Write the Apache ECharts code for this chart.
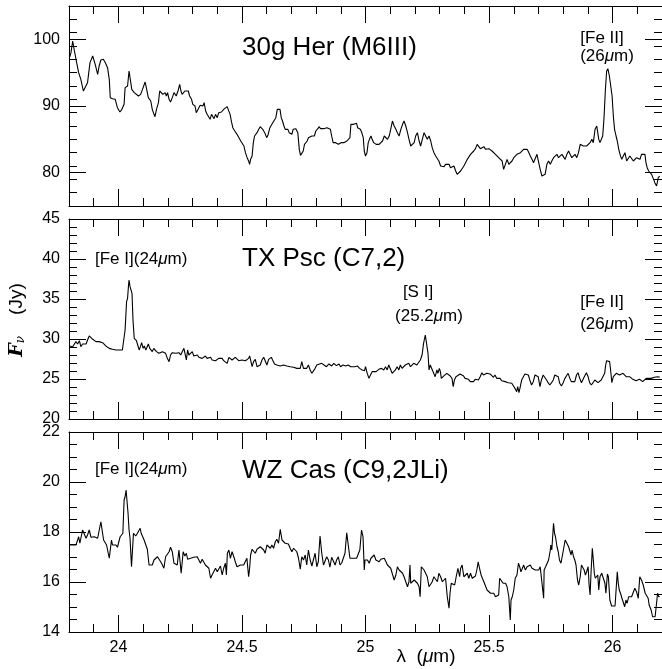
<!DOCTYPE html>
<html>
<head>
<meta charset="utf-8">
<script src="https://cdn.jsdelivr.net/npm/echarts@6/dist/echarts.min.js"></script>
<style>
  html, body { margin: 0; padding: 0; background: #fff; }
  #chart { width: 662px; height: 669px; }
</style>
</head>
<body>
<div id="chart"></div>
<script>
// wavelength axis (um) and flux ticks (Jy) for each panel
const waveRange = [23.8, 26.2];
const waveTicks = [24, 24.5, 25, 25.5, 26];
const herTicks = [80, 90, 100];
const pscTicks = [20, 25, 30, 35, 40, 45];
const casTicks = [14, 16, 18, 20, 22];

// [wavelength, flux]
const herSpectrum = [
  [23.801,97.1],[23.808,98.0],[23.815,99.75],[23.822,98.25],[23.831,96.5],[23.839,95.0],[23.848,94.0],[23.858,92.25],[23.866,92.5],[23.875,93.5],
  [23.885,96.5],[23.896,97.5],[23.906,96.25],[23.916,94.75],[23.922,96.0],[23.929,96.9],[23.939,97.0],[23.947,96.5],[23.956,95.75],[23.963,94.0],
  [23.967,91.25],[23.976,91.1],[23.987,91.0],[23.996,89.75],[24.006,89.1],[24.014,89.5],[24.023,90.25],[24.027,92.75],[24.037,93.0],[24.043,95.25],
  [24.050,95.25],[24.054,92.5],[24.064,92.0],[24.070,91.75],[24.081,91.5],[24.090,91.75],[24.100,92.75],[24.108,93.6],[24.113,92.75],[24.121,91.25],
  [24.131,90.75],[24.137,89.5],[24.144,88.75],[24.148,88.4],[24.154,89.5],[24.162,90.5],[24.167,92.25],[24.175,92.25],[24.180,91.75],[24.189,92.0],
  [24.194,91.5],[24.199,92.0],[24.205,91.0],[24.211,90.6],[24.218,91.25],[24.225,92.0],[24.229,92.25],[24.234,91.5],[24.241,92.25],[24.248,93.25],
  [24.253,92.25],[24.258,91.75],[24.265,91.5],[24.269,92.25],[24.275,92.5],[24.283,92.25],[24.288,91.5],[24.296,91.0],[24.301,90.25],[24.310,90.0],
  [24.315,89.0],[24.323,89.25],[24.331,90.1],[24.336,90.25],[24.342,90.0],[24.347,90.5],[24.353,89.25],[24.359,88.75],[24.366,88.5],[24.371,88.0],
  [24.377,88.75],[24.382,89.0],[24.387,88.1],[24.393,88.75],[24.400,88.25],[24.406,89.0],[24.412,88.75],[24.417,89.1],[24.426,89.5],[24.433,89.75],
  [24.440,89.9],[24.447,89.75],[24.452,88.75],[24.457,87.75],[24.463,86.75],[24.471,86.25],[24.480,85.75],[24.487,85.5],[24.495,84.75],[24.503,84.5],
  [24.508,84.0],[24.514,83.0],[24.521,82.25],[24.527,81.75],[24.531,81.25],[24.535,82.0],[24.541,82.5],[24.546,84.5],[24.551,85.5],[24.561,86.0],
  [24.568,86.5],[24.574,86.9],[24.584,86.5],[24.592,86.0],[24.600,85.25],[24.605,85.6],[24.613,86.75],[24.621,87.25],[24.629,87.5],[24.637,88.25],
  [24.643,89.5],[24.648,89.75],[24.654,89.5],[24.659,88.25],[24.664,87.75],[24.670,87.0],[24.675,86.5],[24.680,86.25],[24.686,86.5],[24.691,86.0],
  [24.697,86.25],[24.702,85.75],[24.707,86.5],[24.713,86.75],[24.718,86.6],[24.726,86.0],[24.732,83.5],[24.737,82.6],[24.742,82.75],[24.748,83.25],
  [24.753,84.25],[24.758,84.5],[24.764,84.75],[24.769,85.25],[24.776,85.25],[24.783,85.5],[24.788,85.75],[24.793,85.5],[24.799,86.25],[24.807,86.6],
  [24.812,86.9],[24.818,86.6],[24.823,86.5],[24.830,86.6],[24.836,86.75],[24.844,86.75],[24.852,86.6],[24.858,86.5],[24.863,85.5],[24.869,84.5],
  [24.874,84.25],[24.879,84.5],[24.885,84.4],[24.890,84.25],[24.896,84.1],[24.901,84.5],[24.906,84.25],[24.912,84.5],[24.917,84.4],[24.925,84.75],
  [24.930,84.75],[24.937,85.25],[24.941,87.25],[24.947,87.4],[24.952,87.25],[24.957,87.5],[24.964,87.4],[24.968,86.75],[24.973,86.5],[24.979,86.5],
  [24.984,86.1],[24.991,85.25],[24.995,83.25],
  [25.000,82.5],[25.006,83.0],[25.011,84.5],[25.016,85.0],[25.022,85.5],[25.027,85.0],[25.033,84.5],[25.038,84.75],[25.043,84.25],[25.049,84.0],
  [25.055,84.25],[25.062,84.5],[25.069,84.75],[25.076,85.5],[25.082,85.25],[25.089,85.0],[25.096,85.5],[25.102,86.5],[25.109,87.75],[25.116,87.0],
  [25.123,86.5],[25.129,86.0],[25.136,85.5],[25.143,86.5],[25.150,87.25],[25.156,87.75],[25.163,87.0],[25.170,86.0],[25.176,85.0],[25.183,84.0],
  [25.190,83.75],[25.197,84.5],[25.203,85.5],[25.210,86.0],[25.217,84.75],[25.223,84.0],[25.230,85.0],[25.237,86.0],[25.244,86.0],[25.250,85.0],
  [25.257,85.5],[25.264,84.75],[25.270,83.75],[25.277,83.0],[25.284,82.5],[25.291,82.25],[25.297,81.75],[25.304,81.0],[25.311,81.25],[25.318,80.9],
  [25.324,81.25],[25.331,81.0],[25.338,81.25],[25.344,80.75],[25.351,80.5],[25.358,81.0],[25.365,80.25],[25.371,79.75],[25.378,79.75],[25.385,80.25],
  [25.391,80.5],[25.398,81.0],[25.405,81.5],[25.412,82.0],[25.418,82.25],[25.425,82.75],[25.432,83.0],[25.438,83.25],[25.445,83.6],[25.452,84.25],
  [25.459,84.0],[25.465,83.6],[25.472,83.75],[25.479,83.9],[25.486,83.5],[25.492,83.75],[25.499,83.6],[25.506,83.4],[25.512,83.25],[25.519,83.1],
  [25.526,82.75],[25.533,82.5],[25.539,82.25],[25.546,82.0],[25.553,81.75],[25.559,80.5],[25.566,81.25],[25.573,82.0],[25.580,81.25],[25.586,81.0],
  [25.593,81.75],[25.600,82.25],[25.607,82.5],[25.613,82.75],[25.620,82.6],[25.627,83.0],[25.633,83.25],[25.640,83.5],[25.647,83.25],[25.654,83.5],
  [25.660,83.1],[25.667,82.5],[25.674,82.0],[25.680,81.5],[25.687,81.75],[25.694,82.75],[25.701,81.5],[25.707,80.5],[25.714,79.5],[25.721,79.25],
  [25.727,79.75],[25.734,81.25],[25.741,81.75],[25.748,81.25],[25.754,81.75],[25.761,82.25],[25.768,82.5],[25.775,82.75],[25.781,82.25],[25.788,82.5],
  [25.795,82.75],[25.801,82.5],[25.808,82.0],[25.815,82.75],[25.822,83.25],[25.828,82.75],[25.835,82.25],[25.842,82.5],[25.848,82.75],[25.855,82.25],
  [25.862,83.0],[25.869,84.25],[25.875,84.5],[25.882,84.0],[25.889,84.25],[25.895,84.0],[25.902,84.25],[25.909,84.5],[25.916,85.0],[25.922,84.5],
  [25.929,86.5],[25.936,87.0],[25.940,86.0],[25.944,85.0],[25.949,84.5],[25.956,84.25],[25.960,85.5],[25.965,88.0],[25.971,92.5],[25.976,95.25],
  [25.981,95.6],[25.987,94.5],[25.992,94.75],[25.998,91.5],[26.003,88.5],[26.008,86.5],[26.014,85.5],[26.019,84.75],[26.025,83.5],[26.030,82.75],
  [26.037,82.0],[26.043,82.25],[26.050,83.0],[26.057,81.75],[26.064,81.5],[26.070,82.5],[26.077,82.75],[26.084,81.75],[26.090,81.5],[26.097,82.25],
  [26.104,82.5],[26.111,82.0],[26.117,82.75],[26.124,82.5],[26.131,82.75],[26.135,81.5],[26.140,80.75],[26.146,80.25],[26.151,80.0],[26.158,79.75],
  [26.164,79.5],[26.171,78.5],[26.178,78.0],[26.185,79.25],[26.191,79.5]
];

const pscSpectrum = [
  [23.801,29.13],[23.808,29.25],[23.815,29.04],[23.822,29.13],[23.828,29.67],[23.835,29.38],[23.842,29.79],[23.848,29.04],[23.855,29.38],[23.862,29.13],
  [23.869,29.38],[23.875,29.88],[23.882,30.38],[23.889,30.21],[23.896,29.96],[23.902,29.79],[23.909,29.67],[23.916,29.54],[23.922,29.67],[23.929,29.46],
  [23.936,29.54],[23.943,29.38],[23.949,29.13],[23.956,28.96],[23.963,28.83],[23.969,29.04],[23.976,28.71],[23.983,28.96],[23.990,28.63],[23.996,28.71],
  [24.003,28.63],[24.010,28.42],[24.016,28.63],[24.023,28.83],[24.027,31.13],[24.033,34.67],[24.037,35.08],[24.041,36.75],[24.043,37.38],[24.047,36.54],
  [24.051,36.33],[24.055,35.71],[24.059,32.38],[24.064,30.08],[24.068,29.88],[24.073,29.79],[24.078,29.25],[24.084,28.63],[24.089,29.04],[24.094,29.54],
  [24.100,28.83],[24.105,29.13],[24.111,28.63],[24.116,28.71],[24.121,29.38],[24.127,28.83],[24.132,29.04],[24.137,28.42],[24.143,28.83],[24.148,29.04],
  [24.154,28.42],[24.159,28.63],[24.164,28.21],[24.171,28.00],[24.178,28.42],[24.184,28.63],[24.191,28.21],[24.198,27.58],[24.205,27.17],[24.211,28.00],
  [24.218,28.29],[24.225,28.42],[24.232,28.21],[24.238,28.13],[24.245,28.29],[24.252,28.00],[24.258,27.79],[24.265,28.83],[24.269,28.63],[24.275,27.38],
  [24.280,28.63],[24.285,28.00],[24.292,28.13],[24.299,28.42],[24.305,27.88],[24.312,27.71],[24.319,28.00],[24.326,27.71],[24.332,27.88],[24.339,27.58],
  [24.346,27.79],[24.352,27.88],[24.359,27.58],[24.366,27.46],[24.373,27.71],[24.379,27.38],[24.386,27.46],[24.393,27.29],[24.400,27.46],[24.406,27.58],
  [24.413,27.38],[24.420,27.58],[24.426,27.29],[24.433,27.46],[24.440,26.96],[24.447,27.71],[24.453,27.79],[24.460,27.38],[24.467,27.58],[24.473,27.71],
  [24.480,27.46],[24.487,27.29],[24.494,27.17],[24.500,27.38],[24.507,27.17],[24.514,27.29],[24.520,27.04],[24.527,27.58],[24.531,27.88],[24.535,27.38],
  [24.541,26.54],[24.547,27.17],[24.554,27.46],[24.561,26.54],[24.568,26.46],[24.574,26.75],[24.581,27.38],[24.588,27.71],[24.594,27.58],[24.601,26.75],
  [24.608,27.46],[24.613,27.71],[24.619,27.71],[24.624,27.38],[24.632,26.88],[24.641,26.75],[24.648,26.75],[24.655,26.63],[24.662,26.54],[24.668,26.75],
  [24.675,26.54],[24.682,26.63],[24.688,26.46],[24.695,26.54],[24.702,26.54],[24.709,26.46],[24.715,26.63],[24.722,26.33],[24.729,26.54],[24.736,26.33],
  [24.742,27.17],[24.749,26.33],[24.756,26.13],[24.762,26.33],[24.769,26.75],[24.776,26.13],[24.783,25.71],[24.789,25.92],[24.796,26.33],[24.803,26.75],
  [24.809,26.54],
  [24.823,26.96],[24.832,26.75],[24.842,26.54],[24.852,26.88],[24.863,26.63],[24.872,26.96],[24.882,26.67],[24.893,26.88],[24.899,26.54],[24.909,26.75],
  [24.920,26.63],[24.930,26.75],[24.940,26.54],[24.946,26.33],[24.957,26.54],[24.967,26.63],[24.976,26.33],[24.987,26.13],[24.996,26.04],[25.000,26.54],
  [25.007,25.71],[25.014,25.08],[25.020,25.50],[25.027,25.92],[25.034,26.04],[25.043,25.92],[25.054,26.21],[25.065,26.33],[25.074,26.13],[25.081,26.54],
  [25.088,26.13],[25.094,26.75],[25.101,26.75],[25.108,25.71],[25.114,25.50],[25.121,26.13],[25.128,26.54],[25.135,26.13],[25.141,26.75],[25.148,26.33],
  [25.155,26.54],[25.161,26.75],[25.168,26.54],[25.175,26.96],[25.182,26.54],[25.188,26.75],[25.195,26.96],[25.202,27.17],[25.208,26.75],[25.215,26.96],
  [25.222,27.38],[25.229,28.00],[25.235,29.46],[25.242,30.50],[25.249,30.50],[25.253,28.21],[25.257,26.13],[25.262,26.75],[25.269,26.54],[25.276,25.71],
  [25.282,25.29],[25.289,26.13],[25.293,25.71],[25.299,26.33],[25.303,25.92],[25.307,25.08],[25.312,24.88],[25.317,25.38],[25.323,25.50],[25.329,25.71],
  [25.336,25.63],[25.343,25.38],[25.350,25.08],[25.355,24.04],[25.360,24.88],[25.366,25.29],[25.374,25.50],[25.383,25.63],[25.390,25.50],[25.397,25.38],
  [25.403,25.08],[25.410,24.88],[25.417,24.96],[25.424,24.67],[25.430,24.54],[25.437,24.67],[25.444,24.96],[25.450,25.08],[25.457,24.88],[25.464,25.29],
  [25.471,25.79],[25.477,25.50],[25.484,25.63],[25.491,25.71],[25.497,25.50],[25.504,25.63],[25.511,25.38],[25.518,25.21],[25.524,25.50],[25.531,25.08],
  [25.538,24.96],[25.545,25.08],[25.551,24.79],[25.558,24.88],[25.565,24.67],[25.571,24.88],[25.578,24.54],[25.585,24.67],[25.592,24.46],[25.598,24.25],
  [25.605,23.83],[25.612,23.42],[25.616,24.04],[25.621,23.29],[25.625,23.83],[25.632,24.88],[25.639,25.29],[25.645,25.63],[25.652,25.38],[25.659,25.50],
  [25.665,24.88],[25.672,24.25],[25.679,24.67],[25.686,25.50],[25.692,25.71],[25.699,25.29],[25.706,24.04],[25.712,24.88],[25.719,25.50],[25.726,25.63],
  [25.733,24.88],[25.739,24.54],[25.746,24.25],[25.753,24.54],[25.760,24.88],[25.766,25.50],[25.773,25.71],[25.780,25.29],[25.786,24.46],[25.793,24.13],
  [25.800,24.54],[25.807,25.08],[25.813,25.38],[25.820,25.71],[25.827,25.08],[25.833,24.67],[25.840,24.54],[25.847,24.67],[25.854,25.50],[25.860,25.79],
  [25.867,25.08],[25.874,24.54],[25.880,24.46],[25.887,25.38],[25.894,25.79],[25.901,25.29],[25.907,24.54],[25.914,24.25],[25.921,24.54],[25.928,24.88],
  [25.934,24.67],[25.941,24.54],[25.948,24.46],[25.954,24.88],[25.961,24.67],[25.968,25.71],[25.972,26.75],[25.976,27.29],[25.981,27.38],[25.988,27.17],
  [25.992,26.13],[25.997,24.54],[26.003,25.29],[26.008,25.50],[26.015,25.71],[26.022,25.79],[26.028,25.50],[26.035,25.38],[26.042,25.71],[26.048,25.92],
  [26.055,25.29],[26.062,25.08],[26.069,25.29],[26.075,25.50],[26.082,24.96],[26.089,24.88],[26.095,24.79],[26.102,24.67],[26.109,24.96],[26.116,24.79],
  [26.122,24.67],[26.129,24.88],[26.136,25.08],[26.143,25.08],[26.156,25.08],[26.169,25.21],[26.183,25.29],[26.191,25.21]
];

const casSpectrum = [
  [23.801,17.48],[23.808,17.44],[23.815,17.48],[23.822,17.44],[23.828,17.48],[23.835,17.68],[23.839,17.81],[23.844,17.55],[23.848,17.75],[23.855,18.08],
  [23.862,18.01],[23.869,17.75],[23.875,17.88],[23.882,18.08],[23.889,17.79],[23.896,17.84],[23.902,17.81],[23.909,17.88],[23.916,17.75],[23.922,17.79],
  [23.929,18.41],[23.936,18.41],[23.940,17.68],[23.947,17.75],[23.952,17.48],[23.957,17.55],[23.963,16.95],[23.968,16.95],[23.972,17.68],[23.976,17.48],
  [23.983,17.55],[23.990,17.48],[23.996,17.39],[24.003,17.35],[24.007,17.81],[24.012,17.81],[24.018,17.95],[24.023,19.28],[24.027,19.41],[24.031,19.68],
  [24.035,19.71],[24.039,18.75],[24.043,18.08],[24.047,17.75],[24.053,16.61],[24.057,17.28],[24.061,17.95],[24.065,17.88],[24.070,17.84],[24.077,17.95],
  [24.084,17.88],[24.088,18.15],[24.092,17.95],[24.097,17.84],[24.104,17.68],[24.111,17.48],[24.117,17.31],[24.124,16.68],[24.131,16.68],[24.137,16.68],
  [24.144,16.88],[24.151,16.88],[24.158,17.01],[24.164,16.95],[24.171,16.81],[24.178,16.68],[24.184,16.55],[24.191,17.01],[24.198,17.08],[24.205,17.21],
  [24.211,17.39],[24.218,17.21],[24.225,16.75],[24.232,16.68],[24.238,16.68],[24.245,17.28],[24.249,17.28],[24.254,16.35],[24.258,16.28],[24.262,17.21],
  [24.269,17.04],[24.275,17.15],[24.280,16.91],[24.285,16.99],[24.292,16.95],[24.299,17.01],[24.305,16.99],[24.312,16.95],[24.319,17.01],[24.326,16.95],
  [24.332,16.75],[24.339,16.91],[24.346,16.88],[24.352,16.68],[24.359,16.75],[24.366,16.55],[24.373,16.15],[24.379,16.28],[24.386,16.28],[24.393,16.55],
  [24.400,16.41],[24.406,16.48],[24.413,16.64],[24.420,16.28],[24.426,16.55],[24.433,16.75],[24.437,16.28],[24.441,17.15],[24.447,17.28],[24.453,16.95],
  [24.460,17.21],[24.467,17.01],[24.473,16.81],[24.480,16.61],[24.487,16.68],[24.494,16.68],[24.500,16.61],[24.507,16.68],[24.514,16.75],[24.520,16.95],
  [24.527,16.21],[24.531,16.55],[24.535,17.08],[24.541,17.31],[24.547,17.28],[24.554,17.15],[24.561,17.31],[24.568,17.35],[24.574,17.41],[24.581,17.35],
  [24.588,17.28],[24.594,17.15],[24.601,17.48],[24.608,17.41],[24.615,17.35],[24.621,17.48],[24.628,17.35],[24.635,17.61],[24.641,17.71],[24.648,17.55],
  [24.655,18.11],[24.662,17.68],[24.668,17.75],[24.675,17.55],[24.682,17.57],[24.688,17.52],[24.695,17.35],[24.702,17.21],[24.709,17.35],[24.715,17.28],
  [24.722,17.21],[24.729,16.95],[24.736,16.51],[24.742,17.01],[24.749,16.88],[24.756,17.08],[24.762,16.68],[24.769,17.28],[24.776,16.88],[24.783,16.64],
  [24.789,16.88],[24.796,17.15],[24.803,16.61],[24.809,16.81],[24.816,17.84],[24.823,17.15],[24.830,16.68],[24.836,16.61],[24.843,17.01],[24.850,16.88],
  [24.856,16.59],[24.863,16.99],[24.870,17.01],[24.877,16.68],[24.883,16.88],[24.890,17.01],[24.897,16.68],[24.904,16.77],[24.910,16.81],[24.917,17.15],
  [24.924,17.97],[24.930,17.95],[24.937,16.95],[24.944,16.95],[24.951,16.95],[24.957,16.88],[24.964,16.95],[24.971,16.95],[24.977,17.28],[24.984,18.08],
  [24.990,17.81],[24.995,16.48],
  [24.998,16.88],[25.003,16.81],[25.008,16.88],[25.015,16.75],[25.022,16.95],[25.029,16.88],[25.035,17.08],[25.042,16.88],[25.049,16.95],[25.055,16.81],
  [25.062,16.91],[25.069,16.88],[25.076,16.95],[25.082,16.88],[25.089,16.68],[25.096,16.61],[25.102,16.55],[25.109,16.48],[25.116,16.08],[25.123,16.28],
  [25.129,16.61],[25.136,16.48],[25.143,16.55],[25.150,16.35],[25.156,16.21],[25.163,16.01],[25.170,15.81],[25.176,16.01],[25.180,16.68],[25.183,15.95],
  [25.190,15.88],[25.197,16.08],[25.203,16.01],[25.210,15.95],[25.217,15.81],[25.221,15.41],[25.226,16.61],[25.230,16.64],[25.237,16.48],[25.244,16.55],
  [25.250,16.21],[25.257,15.81],[25.264,15.81],[25.270,16.01],[25.277,16.21],[25.284,16.15],[25.291,16.01],[25.297,16.35],[25.304,16.21],[25.311,16.01],
  [25.318,15.95],[25.324,16.15],[25.331,15.41],[25.338,14.95],[25.342,15.55],[25.347,15.95],[25.354,16.01],[25.361,15.88],[25.367,16.21],[25.374,16.55],
  [25.381,16.21],[25.385,16.55],[25.391,16.68],[25.398,16.21],[25.405,16.21],[25.412,16.35],[25.418,16.15],[25.425,16.35],[25.432,16.15],[25.438,16.21],
  [25.445,16.24],[25.452,16.55],[25.456,16.81],[25.463,16.48],[25.468,16.28],[25.473,16.15],[25.479,16.01],[25.486,16.01],[25.492,15.68],[25.499,15.61],
  [25.506,15.55],[25.512,15.61],[25.519,15.55],[25.526,15.41],[25.533,15.41],[25.539,15.48],[25.543,16.15],[25.549,16.15],[25.557,15.95],[25.562,16.01],
  [25.567,15.95],[25.573,15.81],[25.580,15.41],[25.584,15.41],[25.586,14.48],[25.589,15.28],[25.594,15.41],[25.600,15.68],[25.606,16.15],[25.613,16.28],
  [25.619,16.75],[25.624,16.61],[25.629,16.41],[25.635,16.55],[25.640,16.68],[25.647,16.48],[25.654,16.61],[25.660,16.59],[25.667,16.68],[25.674,16.55],
  [25.680,16.55],[25.687,16.48],[25.694,16.48],[25.701,16.48],[25.707,16.61],[25.714,16.55],[25.721,15.35],[25.723,16.48],[25.729,16.61],[25.734,16.68],
  [25.741,16.88],[25.748,17.28],[25.750,17.48],[25.754,17.28],[25.758,17.88],[25.761,18.35],[25.765,17.95],[25.769,17.81],[25.775,17.41],[25.780,17.21],
  [25.785,16.88],[25.791,16.75],[25.796,16.81],[25.801,17.28],[25.808,17.68],[25.815,17.55],[25.822,17.41],[25.828,17.21],[25.832,17.08],[25.836,17.28],
  [25.842,17.01],[25.847,16.88],[25.852,16.68],[25.858,16.08],[25.863,15.88],[25.869,16.21],[25.874,16.68],[25.879,16.75],[25.885,16.48],[25.890,16.28],
  [25.895,16.41],[25.901,16.61],[25.905,15.88],[25.909,15.48],[25.913,16.41],[25.918,17.35],[25.922,16.88],[25.926,16.35],[25.930,16.15],[25.936,16.08],
  [25.940,16.28],[25.944,15.68],[25.949,16.21],[25.956,16.35],[25.963,16.28],[25.969,15.95],[25.973,15.55],[25.979,16.32],[25.983,16.21],[25.989,15.28],
  [25.996,15.04],[26.003,15.08],[26.010,15.04],[26.016,15.08],[26.019,16.41],[26.023,15.95],[26.027,15.68],[26.032,15.55],[26.038,15.35],[26.043,15.41],
  [26.049,15.01],[26.054,15.28],[26.059,15.15],[26.065,15.41],[26.070,15.35],[26.077,15.41],[26.084,15.48],[26.090,15.75],[26.097,15.61],[26.104,15.35],
  [26.110,16.21],[26.117,16.08],[26.124,15.88],[26.128,15.95],[26.132,15.55],[26.137,15.48],[26.144,15.35],[26.148,15.08],[26.152,15.01],[26.156,14.88],
  [26.162,14.61],[26.167,14.55],[26.172,14.61],[26.178,15.15],[26.182,15.55],[26.187,15.41],[26.191,15.41]
];

const panels = [
  { title: "30g Her (M6III)", data: herSpectrum, yMin: 75, yMax: 105, ticks: herTicks, minorStep: 2, top: 6, titleY: 48 },
  { title: "TX Psc (C7,2)", data: pscSpectrum, yMin: 20, yMax: 45, ticks: pscTicks, minorStep: 1, top: 219, titleY: 259 },
  { title: "WZ Cas (C9,2JLi)", data: casSpectrum, yMin: 14, yMax: 22, ticks: casTicks, minorStep: 0.5, top: 432, titleY: 471 }
];

function steps(from, to, step) {
  const out = [];
  for (let v = from; v <= to + 1e-9; v += step) out.push(+v.toFixed(3));
  return out;
}

const ink = "#000";
const font = "Liberation Sans";

function makeAxis(gridIndex, position, min, max, values, tickLen, showLabel, showLine) {
  return {
    type: "value",
    gridIndex: gridIndex,
    position: position,
    min: min,
    max: max,
    axisLine: { show: showLine, onZero: false, lineStyle: { color: ink, width: 1 } },
    axisTick: { show: true, inside: true, length: tickLen, customValues: values, lineStyle: { color: ink, width: 1 } },
    axisLabel: {
      show: showLabel,
      customValues: values,
      color: ink,
      fontFamily: font,
      fontSize: 16,
      margin: position === "bottom" ? 8 : 9
    },
    splitLine: { show: false }
  };
}

const grids = [], xAxes = [], yAxes = [], series = [];
const waveMinor = steps(23.8, 26.2, 0.1);

panels.forEach((p, i) => {
  grids.push({ left: 69, top: p.top, width: 595, height: 200 });
  const yMinor = steps(p.yMin, p.yMax, p.minorStep);
  // x axes: bottom major, bottom minor, top major, top minor
  xAxes.push(makeAxis(i, "bottom", waveRange[0], waveRange[1], waveTicks, 17, i === 2, true));
  xAxes.push(makeAxis(i, "bottom", waveRange[0], waveRange[1], waveMinor, 8, false, false));
  xAxes.push(makeAxis(i, "top", waveRange[0], waveRange[1], waveTicks, 17, false, true));
  xAxes.push(makeAxis(i, "top", waveRange[0], waveRange[1], waveMinor, 8, false, false));
  // y axes: left major, left minor, right major, right minor
  yAxes.push(makeAxis(i, "left", p.yMin, p.yMax, p.ticks, 17, true, true));
  yAxes.push(makeAxis(i, "left", p.yMin, p.yMax, yMinor, 8, false, false));
  yAxes.push(makeAxis(i, "right", p.yMin, p.yMax, p.ticks, 17, false, true));
  yAxes.push(makeAxis(i, "right", p.yMin, p.yMax, yMinor, 8, false, false));

  series.push({
    type: "line",
    xAxisIndex: i * 4,
    yAxisIndex: i * 4,
    data: p.data,
    showSymbol: false,
    silent: true,
    lineStyle: { color: ink, width: 1.1 }
  });
});

const muRich = { mu: { fontStyle: "italic", fontFamily: font, fontSize: 17, fill: ink } };

function note(text, x, y, align) {
  return {
    type: "text",
    x: x,
    y: y,
    silent: true,
    style: {
      text: text,
      fill: ink,
      fontFamily: font,
      fontSize: 17,
      align: align || "center",
      verticalAlign: "middle",
      rich: muRich
    }
  };
}

const graphics = [];
panels.forEach(p => {
  graphics.push({
    type: "text", x: 242, y: p.titleY, silent: true,
    style: { text: p.title, fill: ink, fontFamily: font, fontSize: 26, align: "left", verticalAlign: "middle" }
  });
});
graphics.push(
  note("[Fe II]", 602, 38),
  note("(26{mu|μ}m)", 607, 56),
  note("[Fe I](24{mu|μ}m)", 95, 259, "left"),
  note("[S I]", 418, 292),
  note("(25.2{mu|μ}m)", 429, 316),
  note("[Fe II]", 602, 302),
  note("(26{mu|μ}m)", 607, 324),
  note("[Fe I](24{mu|μ}m)", 95, 469, "left"),
  {
    type: "text", x: 426, y: 657, silent: true,
    style: {
      text: "λ  ({m|μ}m)", fill: ink, fontFamily: font, fontSize: 19, align: "center", verticalAlign: "middle",
      rich: { m: { fontStyle: "italic", fontFamily: font, fontSize: 19, fill: ink } }
    }
  },
  {
    type: "text", x: 17, y: 320, rotation: Math.PI / 2, silent: true,
    style: {
      text: "{f|F}{nu|ν}    (Jy)", fill: ink, fontFamily: font, fontSize: 19, align: "center", verticalAlign: "middle",
      rich: {
        f: { fontStyle: "italic", fontWeight: "bold", fontFamily: "DejaVu Serif", fontSize: 19, fill: ink },
        nu: { fontStyle: "italic", fontFamily: "DejaVu Serif", fontSize: 12, fill: ink, verticalAlign: "bottom", padding: [8, 0, 0, 0] }
      }
    }
  }
);

const chart = echarts.init(document.getElementById("chart"), null, { renderer: "canvas" });
chart.setOption({
  animation: false,
  backgroundColor: "#fff",
  grid: grids,
  xAxis: xAxes,
  yAxis: yAxes,
  series: series,
  graphic: graphics
});
</script>
</body>
</html>
